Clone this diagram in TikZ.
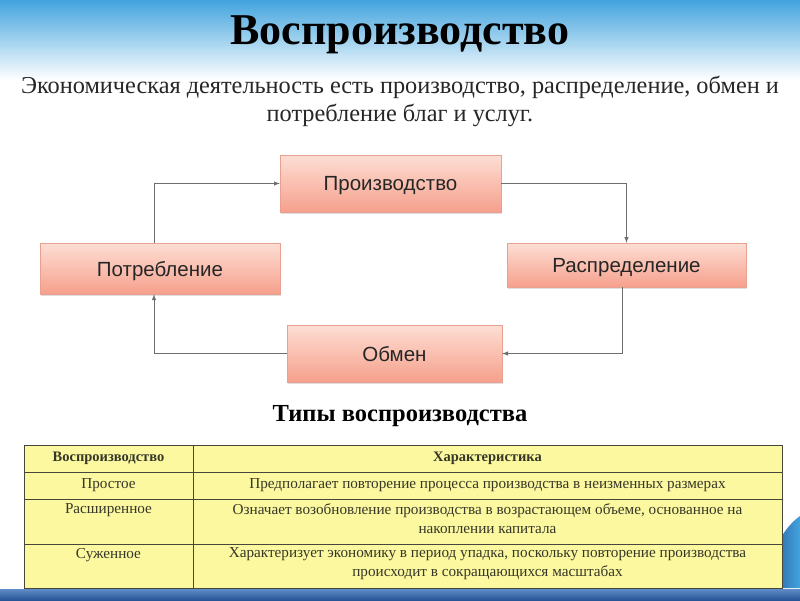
\documentclass[tikz,border=0pt]{standalone}
\usepackage{fontspec}
\setmainfont{Liberation Serif}
\newfontfamily\boxfont{Liberation Sans}
\usetikzlibrary{shadows,arrows}

\definecolor{bandblue}{RGB}{66,164,222}
\definecolor{bandlight}{RGB}{150,203,238}
\definecolor{foottop}{RGB}{95,140,200}
\definecolor{footbot}{RGB}{40,85,150}
\definecolor{boxtop}{RGB}{253,222,212}
\definecolor{boxbot}{RGB}{246,160,140}
\definecolor{boxline}{RGB}{232,160,145}
\definecolor{linegray}{RGB}{110,110,110}
\definecolor{tabfill}{RGB}{251,248,160}
\definecolor{tabline}{RGB}{70,70,60}
\definecolor{tabtext}{RGB}{55,55,40}

\tikzset{
box/.style={draw=boxline,top color=boxtop,bottom color=boxbot,
inner sep=0pt,text depth=0pt,text=black!85,font=\boxfont\fontsize{20.5}{22}\selectfont,
drop shadow={opacity=0.25,shadow xshift=1pt,shadow yshift=-2pt}},
conn/.style={->,draw=linegray,line width=1pt},
hcell/.style={font=\bfseries\fontsize{14.5}{16}\selectfont,text=tabtext},
cell/.style={font=\fontsize{15.2}{19}\selectfont,text=tabtext,align=center}
}

\begin{document}
\begin{tikzpicture}[>=latex,x=1pt,y=-1pt]

\useasboundingbox (0,0) rectangle (800,600);

% background
\shade[top color=bandblue,middle color=bandlight,bottom color=white]
(0,0) rectangle (800,80);
\shade[top color=foottop,bottom color=footbot]
(0,589) rectangle (800,600);
\shade[left color=footbot,right color=bandblue]
(766,588) .. controls (768,560) and (780,530) .. (800,516)
-- (800,588) -- cycle;

% titles
\node[font=\bfseries\fontsize{44}{48}\selectfont]
(T)
at (400,35)
{Воспроизводство};

\node[font=\fontsize{24.3}{28}\selectfont,align=center,text=black!85]
(S)
at (400,101)
{Экономическая деятельность есть производство, распределение, обмен и\\
потребление благ и услуг.};

% cycle
\node[box,minimum width=221pt,minimum height=57pt]
(A)
at (390.5,183.5)
{Производство};

\node[box,minimum width=239pt,minimum height=44pt]
(B)
at (626.5,265)
{Распределение};

\node[box,minimum width=215pt,minimum height=57pt]
(C)
at (394.5,353.5)
{Обмен};

\node[box,minimum width=240pt,minimum height=51pt]
(D)
at (160,268.5)
{Потребление};

\coordinate (lx) at (154,0);
\coordinate (rx) at (622,0);

\draw[conn]
(D.north -| lx) |- (A.west);

\draw[conn]
(A.east) -| (B.north);

\draw[conn]
(B.south -| rx) |- (C.east);

\draw[conn]
(C.west) -| (lx |- D.south);

% table
\node[font=\bfseries\fontsize{24.5}{26}\selectfont]
(U)
at (400,416)
{Типы воспроизводства};

\draw[fill=tabfill,draw=tabline,line width=1pt]
(24,445) rectangle (782,588);

\draw[tabline,line width=1pt]
(193,445) -- (193,588)
(24,472) -- (782,472)
(24,499) -- (782,499)
(24,544) -- (782,544);

\node[hcell] (H1) at (108.5,458.5) {Воспроизводство};
\node[hcell] (H2) at (487.5,458.5) {Характеристика};

\node[cell] (R1) at (108.5,485.5) {Простое};
\node[cell] (R1b) at (487.5,485.5)
{Предполагает повторение процесса производства в неизменных размерах};

\node[cell] (R2) at (108.5,510) {Расширенное};
\node[cell] (R2b) at (487.5,519)
{Означает возобновление производства в возрастающем объеме, основанное на\\
накоплении капитала};

\node[cell] (R3) at (108.5,555) {Суженное};
\node[cell] (R3b) at (487.5,564)
{Характеризует экономику в период упадка, поскольку повторение производства\\
происходит в сокращающихся масштабах};

\end{tikzpicture}
\end{document}
